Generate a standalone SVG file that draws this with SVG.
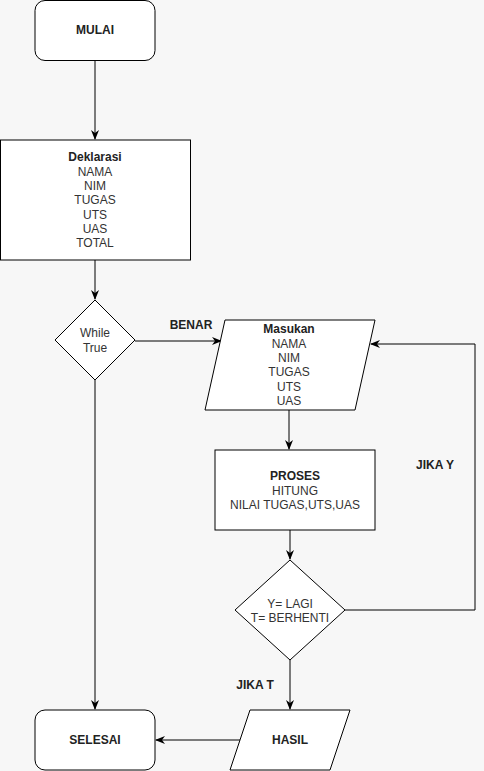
<svg xmlns="http://www.w3.org/2000/svg" width="484" height="771" viewBox="0 0 484 771">
<style>
.shape{fill:#ffffff;stroke:#000000;stroke-width:1}
.edge{fill:none;stroke:#000000;stroke-width:1}
text{font-family:"Liberation Sans",Arial,sans-serif;font-size:12px;fill:#333333;text-anchor:middle}
.b{font-weight:bold;fill:#222222}
</style>
<defs>
<marker id="arr" viewBox="0 0 10 10" refX="9" refY="5" markerWidth="10" markerHeight="10" markerUnits="userSpaceOnUse" orient="auto">
<path d="M0,1 L10,5 L0,9 L3,5 Z" fill="#000000"/>
</marker>
</defs>
<rect x="0" y="0" width="484" height="771" fill="#f7f7f7"/>
<g id="connectors">
<path class="edge" d="M95,60 L95,139" marker-end="url(#arr)"/>
<path class="edge" d="M95,260 L95,299" marker-end="url(#arr)"/>
<path class="edge" d="M135,341 L221,341" marker-end="url(#arr)"/>
<path class="edge" d="M289,410 L289,449" marker-end="url(#arr)"/>
<path class="edge" d="M290,530 L290,559" marker-end="url(#arr)"/>
<path class="edge" d="M345,610 L475,610 L475,344 L371,344" marker-end="url(#arr)"/>
<path class="edge" d="M290,660 L290,709" marker-end="url(#arr)"/>
<path class="edge" d="M240,740 L156,740" marker-end="url(#arr)"/>
<path class="edge" d="M95,380 L95,709" marker-end="url(#arr)"/>
<text class="b" x="191" y="329">BENAR</text>
<text class="b" x="435" y="469">JIKA Y</text>
<text class="b" x="255" y="689">JIKA T</text>
</g>
<g id="mulai">
<rect class="shape" x="35" y="0.5" width="120" height="60" rx="10"/>
<text class="b" x="95" y="34">MULAI</text>
</g>
<g id="deklarasi">
<rect class="shape" x="0.5" y="140" width="190" height="120"/>
<text class="b" x="95" y="161">Deklarasi</text>
<text x="95" y="175.5">NAMA</text>
<text x="95" y="190">NIM</text>
<text x="95" y="204">TUGAS</text>
<text x="95" y="218.5">UTS</text>
<text x="95" y="233">UAS</text>
<text x="95" y="247">TOTAL</text>
</g>
<g id="while">
<polygon class="shape" points="95,300 135,340 95,380 55,340"/>
<text x="95" y="337">While</text>
<text x="95" y="351.5">True</text>
</g>
<g id="masukan">
<polygon class="shape" points="225,320 375,320 355,410 205,410"/>
<text class="b" x="289" y="333">Masukan</text>
<text x="289" y="348">NAMA</text>
<text x="289" y="362">NIM</text>
<text x="289" y="376">TUGAS</text>
<text x="289" y="390.5">UTS</text>
<text x="289" y="405">UAS</text>
</g>
<g id="proses">
<rect class="shape" x="215" y="450" width="160" height="80"/>
<text class="b" x="295" y="480">PROSES</text>
<text x="295" y="494.5">HITUNG</text>
<text x="295" y="509">NILAI TUGAS,UTS,UAS</text>
</g>
<g id="pilihan">
<polygon class="shape" points="290,560 345,610 290,660 235,610"/>
<text x="290" y="608">Y= LAGI</text>
<text x="290" y="622">T= BERHENTI</text>
</g>
<g id="hasil">
<polygon class="shape" points="250,710 350,710 330,770 230,770"/>
<text class="b" x="290" y="744">HASIL</text>
</g>
<g id="selesai">
<rect class="shape" x="35" y="710" width="120" height="60" rx="10"/>
<text class="b" x="95" y="744">SELESAI</text>
</g>
</svg>
